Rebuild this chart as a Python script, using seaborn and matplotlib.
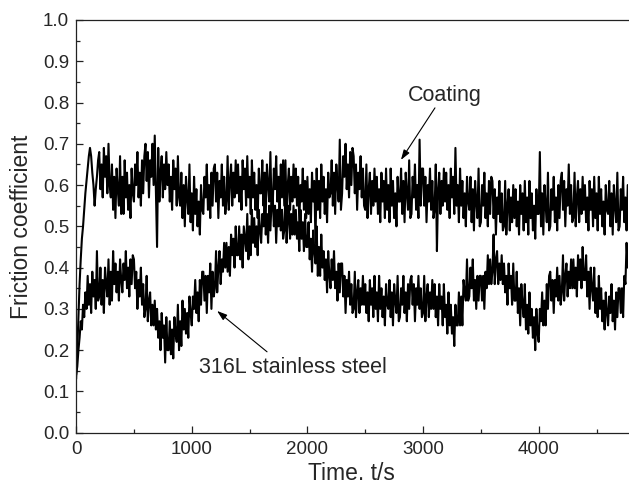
import numpy as np
import matplotlib
matplotlib.use("Agg")
import matplotlib.pyplot as plt
import seaborn as sns
from matplotlib.ticker import MultipleLocator

time_s = np.arange(0, 4780, 10)

coating = [
    0.13, 0.20, 0.28, 0.36, 0.42, 0.47, 0.50, 0.54, 0.58, 0.61,
    0.64, 0.67, 0.69, 0.67, 0.63, 0.60, 0.55, 0.59, 0.62, 0.66,
    0.68, 0.59, 0.65, 0.57, 0.69, 0.62, 0.67, 0.58, 0.70, 0.60,
    0.57, 0.65, 0.54, 0.62, 0.52, 0.64, 0.59, 0.55, 0.67, 0.53,
    0.62, 0.53, 0.66, 0.57, 0.63, 0.54, 0.60, 0.52, 0.64, 0.58,
    0.56, 0.65, 0.60, 0.68, 0.57, 0.63, 0.55, 0.66, 0.58, 0.67,
    0.70, 0.61, 0.68, 0.57, 0.66, 0.62, 0.70, 0.60, 0.72, 0.58,
    0.45, 0.69, 0.56, 0.63, 0.67, 0.57, 0.65, 0.59, 0.68, 0.60,
    0.65, 0.56, 0.62, 0.54, 0.66, 0.59, 0.64, 0.55, 0.67, 0.57,
    0.55, 0.63, 0.52, 0.60, 0.50, 0.62, 0.57, 0.53, 0.65, 0.51,
    0.58, 0.49, 0.62, 0.53, 0.59, 0.50, 0.56, 0.48, 0.60, 0.54,
    0.53, 0.62, 0.57, 0.65, 0.54, 0.60, 0.52, 0.63, 0.55, 0.64,
    0.65, 0.56, 0.63, 0.52, 0.61, 0.57, 0.65, 0.55, 0.62, 0.53,
    0.56, 0.67, 0.54, 0.61, 0.65, 0.55, 0.63, 0.57, 0.66, 0.58,
    0.65, 0.56, 0.62, 0.54, 0.66, 0.59, 0.64, 0.55, 0.67, 0.57,
    0.62, 0.53, 0.66, 0.57, 0.63, 0.54, 0.60, 0.52, 0.64, 0.58,
    0.58, 0.66, 0.55, 0.63, 0.53, 0.65, 0.60, 0.56, 0.68, 0.54,
    0.55, 0.64, 0.59, 0.67, 0.56, 0.62, 0.54, 0.65, 0.57, 0.66,
    0.55, 0.66, 0.53, 0.60, 0.64, 0.54, 0.62, 0.56, 0.65, 0.57,
    0.64, 0.55, 0.62, 0.51, 0.60, 0.56, 0.64, 0.54, 0.61, 0.52,
    0.62, 0.53, 0.59, 0.51, 0.63, 0.56, 0.61, 0.46, 0.64, 0.54,
    0.61, 0.52, 0.65, 0.56, 0.62, 0.53, 0.59, 0.51, 0.63, 0.57,
    0.58, 0.66, 0.55, 0.63, 0.53, 0.65, 0.60, 0.56, 0.71, 0.54,
    0.58, 0.67, 0.62, 0.70, 0.59, 0.65, 0.57, 0.68, 0.60, 0.69,
    0.67, 0.58, 0.65, 0.54, 0.63, 0.59, 0.67, 0.57, 0.64, 0.55,
    0.54, 0.65, 0.52, 0.59, 0.63, 0.53, 0.61, 0.55, 0.64, 0.56,
    0.62, 0.53, 0.59, 0.51, 0.63, 0.56, 0.61, 0.52, 0.64, 0.54,
    0.60, 0.51, 0.64, 0.55, 0.61, 0.52, 0.58, 0.50, 0.62, 0.56,
    0.56, 0.64, 0.53, 0.61, 0.51, 0.63, 0.58, 0.54, 0.66, 0.52,
    0.53, 0.62, 0.57, 0.65, 0.54, 0.60, 0.52, 0.71, 0.55, 0.64,
    0.64, 0.55, 0.62, 0.51, 0.60, 0.56, 0.64, 0.54, 0.61, 0.52,
    0.54, 0.65, 0.44, 0.59, 0.63, 0.53, 0.61, 0.55, 0.64, 0.56,
    0.63, 0.54, 0.60, 0.52, 0.64, 0.57, 0.62, 0.53, 0.69, 0.55,
    0.60, 0.51, 0.64, 0.55, 0.61, 0.52, 0.58, 0.50, 0.62, 0.56,
    0.54, 0.62, 0.51, 0.59, 0.49, 0.61, 0.56, 0.52, 0.64, 0.50,
    0.51, 0.60, 0.55, 0.63, 0.52, 0.58, 0.50, 0.61, 0.53, 0.62,
    0.61, 0.52, 0.59, 0.48, 0.57, 0.53, 0.61, 0.51, 0.58, 0.49,
    0.50, 0.61, 0.48, 0.55, 0.59, 0.49, 0.57, 0.51, 0.60, 0.52,
    0.59, 0.50, 0.56, 0.48, 0.60, 0.53, 0.58, 0.49, 0.61, 0.51,
    0.57, 0.48, 0.61, 0.52, 0.58, 0.49, 0.55, 0.47, 0.59, 0.53,
    0.53, 0.68, 0.50, 0.58, 0.48, 0.60, 0.55, 0.51, 0.63, 0.49,
    0.50, 0.59, 0.54, 0.62, 0.51, 0.57, 0.49, 0.60, 0.52, 0.61,
    0.63, 0.54, 0.61, 0.50, 0.59, 0.55, 0.65, 0.53, 0.60, 0.51,
    0.52, 0.63, 0.50, 0.57, 0.61, 0.51, 0.59, 0.53, 0.62, 0.54,
    0.60, 0.51, 0.57, 0.49, 0.61, 0.54, 0.59, 0.50, 0.62, 0.52,
    0.58, 0.49, 0.62, 0.53, 0.59, 0.50, 0.56, 0.48, 0.60, 0.54,
    0.53, 0.61, 0.50, 0.58, 0.48, 0.60, 0.55, 0.51, 0.63, 0.49,
    0.50, 0.59, 0.54, 0.62, 0.51, 0.57, 0.49, 0.60,
]

steel = [
    0.14, 0.16, 0.20, 0.23, 0.27, 0.25, 0.31, 0.28, 0.34, 0.30,
    0.38, 0.31, 0.36, 0.29, 0.39, 0.33, 0.37, 0.30, 0.44, 0.32,
    0.33, 0.40, 0.31, 0.37, 0.29, 0.40, 0.36, 0.33, 0.42, 0.31,
    0.39, 0.32, 0.44, 0.36, 0.41, 0.34, 0.39, 0.32, 0.42, 0.37,
    0.34, 0.41, 0.37, 0.44, 0.35, 0.40, 0.33, 0.42, 0.36, 0.43,
    0.42, 0.35, 0.39, 0.30, 0.37, 0.33, 0.40, 0.31, 0.36, 0.28,
    0.30, 0.38, 0.27, 0.32, 0.34, 0.26, 0.31, 0.26, 0.32, 0.25,
    0.30, 0.23, 0.27, 0.20, 0.29, 0.23, 0.26, 0.17, 0.28, 0.20,
    0.20, 0.27, 0.19, 0.25, 0.18, 0.28, 0.24, 0.22, 0.31, 0.20,
    0.27, 0.21, 0.32, 0.25, 0.30, 0.24, 0.29, 0.23, 0.33, 0.29,
    0.26, 0.33, 0.30, 0.37, 0.29, 0.34, 0.27, 0.37, 0.31, 0.39,
    0.39, 0.32, 0.38, 0.29, 0.38, 0.34, 0.41, 0.30, 0.39, 0.33,
    0.35, 0.44, 0.34, 0.40, 0.44, 0.36, 0.42, 0.39, 0.46, 0.40,
    0.46, 0.39, 0.45, 0.38, 0.48, 0.43, 0.47, 0.40, 0.50, 0.43,
    0.43, 0.50, 0.42, 0.48, 0.40, 0.50, 0.47, 0.44, 0.53, 0.42,
    0.50, 0.43, 0.54, 0.46, 0.52, 0.45, 0.50, 0.43, 0.54, 0.49,
    0.46, 0.53, 0.50, 0.56, 0.48, 0.53, 0.46, 0.55, 0.49, 0.56,
    0.57, 0.50, 0.55, 0.46, 0.54, 0.50, 0.57, 0.49, 0.54, 0.47,
    0.49, 0.58, 0.46, 0.52, 0.55, 0.47, 0.53, 0.48, 0.55, 0.48,
    0.54, 0.47, 0.51, 0.44, 0.54, 0.47, 0.51, 0.44, 0.53, 0.45,
    0.45, 0.51, 0.42, 0.47, 0.39, 0.49, 0.44, 0.41, 0.50, 0.38,
    0.45, 0.38, 0.48, 0.40, 0.44, 0.37, 0.42, 0.34, 0.44, 0.38,
    0.35, 0.42, 0.37, 0.44, 0.35, 0.39, 0.32, 0.41, 0.34, 0.41,
    0.41, 0.33, 0.38, 0.29, 0.37, 0.33, 0.39, 0.31, 0.36, 0.29,
    0.30, 0.39, 0.28, 0.34, 0.37, 0.29, 0.35, 0.31, 0.38, 0.31,
    0.36, 0.29, 0.34, 0.27, 0.37, 0.31, 0.35, 0.28, 0.38, 0.30,
    0.34, 0.27, 0.38, 0.30, 0.35, 0.28, 0.33, 0.26, 0.36, 0.31,
    0.30, 0.37, 0.28, 0.34, 0.26, 0.36, 0.32, 0.29, 0.38, 0.27,
    0.28, 0.35, 0.31, 0.38, 0.29, 0.34, 0.27, 0.36, 0.30, 0.37,
    0.38, 0.31, 0.36, 0.27, 0.35, 0.31, 0.38, 0.30, 0.35, 0.28,
    0.29, 0.38, 0.27, 0.33, 0.36, 0.28, 0.34, 0.30, 0.37, 0.30,
    0.36, 0.28, 0.33, 0.26, 0.36, 0.30, 0.33, 0.26, 0.36, 0.28,
    0.31, 0.24, 0.34, 0.26, 0.31, 0.24, 0.28, 0.21, 0.31, 0.26,
    0.26, 0.34, 0.26, 0.33, 0.26, 0.37, 0.34, 0.32, 0.42, 0.32,
    0.33, 0.40, 0.35, 0.42, 0.32, 0.37, 0.30, 0.38, 0.32, 0.38,
    0.38, 0.32, 0.38, 0.30, 0.39, 0.35, 0.43, 0.36, 0.42, 0.36,
    0.39, 0.48, 0.36, 0.42, 0.44, 0.36, 0.41, 0.37, 0.43, 0.36,
    0.41, 0.34, 0.38, 0.31, 0.41, 0.35, 0.38, 0.31, 0.41, 0.32,
    0.32, 0.39, 0.29, 0.35, 0.26, 0.36, 0.31, 0.28, 0.36, 0.25,
    0.31, 0.24, 0.34, 0.26, 0.30, 0.23, 0.28, 0.20, 0.30, 0.24,
    0.22, 0.30, 0.27, 0.34, 0.26, 0.32, 0.26, 0.36, 0.30, 0.38,
    0.39, 0.32, 0.37, 0.29, 0.37, 0.33, 0.40, 0.32, 0.38, 0.31,
    0.34, 0.43, 0.32, 0.38, 0.41, 0.33, 0.39, 0.35, 0.42, 0.35,
    0.42, 0.35, 0.40, 0.33, 0.43, 0.37, 0.42, 0.35, 0.45, 0.37,
    0.37, 0.43, 0.33, 0.39, 0.30, 0.40, 0.35, 0.32, 0.40, 0.29,
    0.35, 0.28, 0.38, 0.30, 0.35, 0.27, 0.32, 0.25, 0.34, 0.29,
    0.26, 0.33, 0.29, 0.36, 0.27, 0.32, 0.25, 0.34, 0.28, 0.35,
    0.35, 0.29, 0.35, 0.28, 0.38, 0.36, 0.46, 0.40,
]

x_ticks = [0, 1000, 2000, 3000, 4000]
y_ticks = [0.0, 0.1, 0.2, 0.3, 0.4, 0.5, 0.6, 0.7, 0.8, 0.9, 1.0]
x_label = "Time. t/s"
y_label = "Friction coefficient"
label_coating = "Coating"
label_steel = "316L stainless steel"

# ---- plot ----
sns.set_style("ticks")
plt.rcParams["font.family"] = ["Liberation Sans", "DejaVu Sans"]

fig = plt.figure(figsize=(6.29, 4.87), dpi=100)
ax = fig.add_axes([0.121, 0.1115, 0.877, 0.8475])

n = min(len(time_s), len(coating), len(steel))
sns.lineplot(x=time_s[:n], y=coating[:n], ax=ax, color="black", lw=1.5,
             estimator=None, sort=False)
sns.lineplot(x=time_s[:n], y=steel[:n], ax=ax, color="black", lw=1.5,
             estimator=None, sort=False)

ax.set_xlim(0, 4770)
ax.set_ylim(0, 1.0)
ax.set_xticks(x_ticks)
ax.set_yticks(y_ticks)
ax.set_yticklabels([f"{v:.1f}" for v in y_ticks])
ax.xaxis.set_minor_locator(MultipleLocator(500))
ax.yaxis.set_minor_locator(MultipleLocator(0.05))
ax.tick_params(which="both", direction="in", color="#222222", width=0.9)
ax.tick_params(which="major", length=5, labelsize=13.5)
ax.tick_params(axis="x", which="major", pad=6)
ax.tick_params(axis="y", which="major", pad=5)
ax.tick_params(which="minor", length=3)
for side in ["left", "bottom", "top"]:
    ax.spines[side].set_visible(True)
    ax.spines[side].set_linewidth(0.9)
    ax.spines[side].set_color("#222222")
ax.spines["right"].set_visible(False)

ax.set_xlabel(x_label, fontsize=16.5, labelpad=3)
ax.set_ylabel(y_label, fontsize=16.5, labelpad=7)

ax.text(3189, 0.818, label_coating, fontsize=15.5, ha="center", va="center")
ax.annotate("", xy=(2809, 0.661), xytext=(3103, 0.787),
            arrowprops=dict(arrowstyle="-|>,head_length=0.6,head_width=0.2",
                            color="black", lw=0.8, shrinkA=0, shrinkB=0))
ax.text(1876, 0.159, label_steel, fontsize=15.5, ha="center", va="center")
ax.annotate("", xy=(1219, 0.295), xytext=(1651, 0.196),
            arrowprops=dict(arrowstyle="-|>,head_length=0.6,head_width=0.2",
                            color="black", lw=0.8, shrinkA=0, shrinkB=0))

fig.savefig("out.png", dpi=100)
